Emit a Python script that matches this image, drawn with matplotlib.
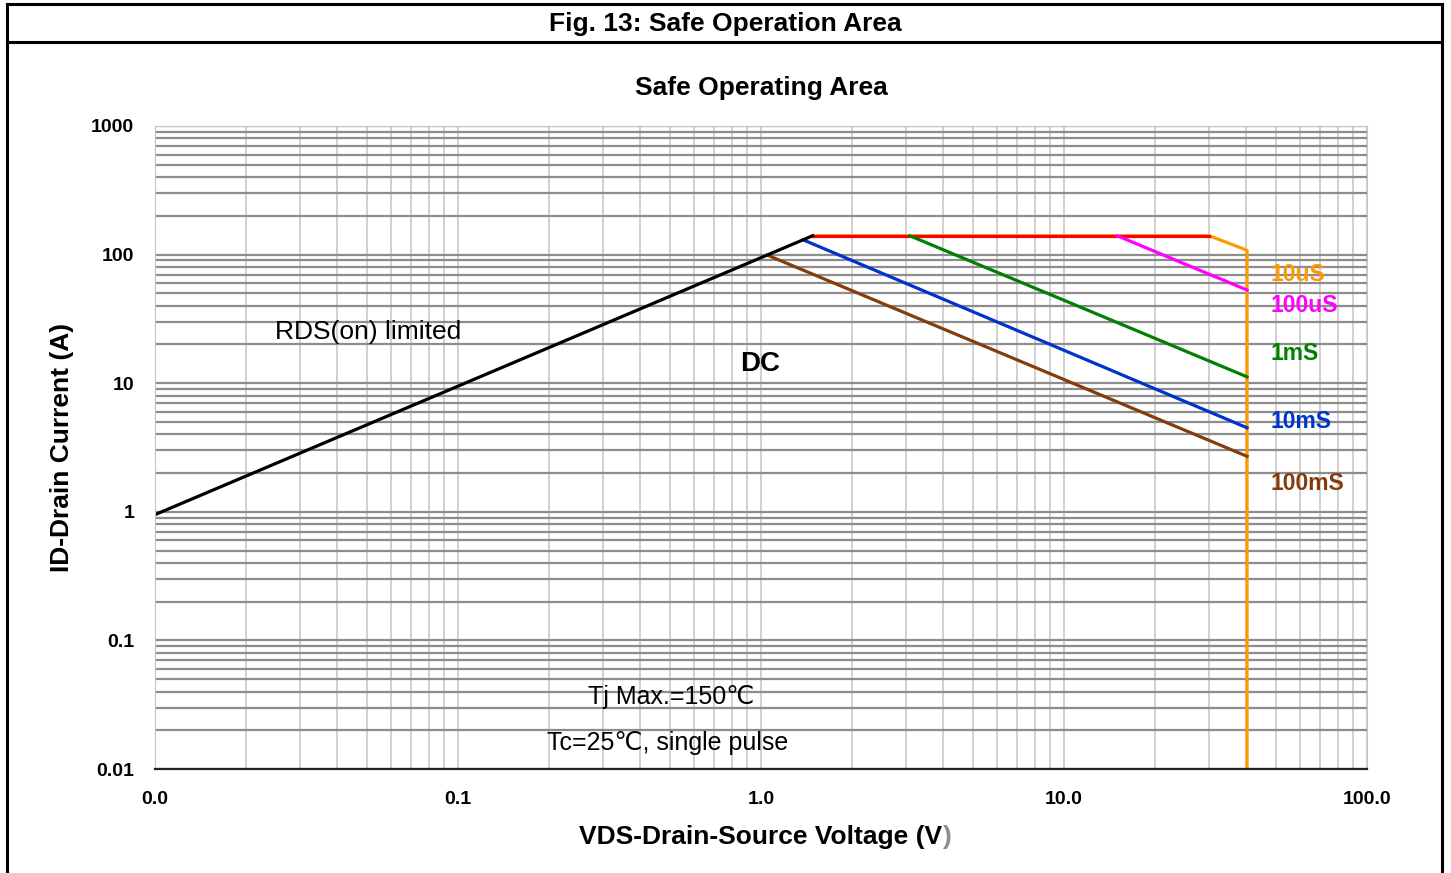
import matplotlib.pyplot as plt
from matplotlib.lines import Line2D
from matplotlib.ticker import FixedLocator, LogLocator, NullFormatter

plt.rcParams['font.family'] = ['Liberation Sans', 'DejaVu Sans']

# curves (V, A)
rds_v = [0.01, 1.48]
rds_i = [0.95, 140]
lim_10us_v = [1.48, 30.2, 40.2, 40.2]
lim_10us_i = [140, 140, 108, 0.01]
red_v = [1.48, 30.2]
red_i = [140, 140]
us100_v = [15.0, 40.2]
us100_i = [140, 53]
ms1_v = [3.1, 40.2]
ms1_i = [140, 11.2]
ms10_v = [1.38, 40.2]
ms10_i = [130, 4.5]
ms100_v = [1.05, 40.2]
ms100_i = [99, 2.7]

x_ticks = [0.01, 0.1, 1, 10, 100]
x_labels = ['0.0', '0.1', '1.0', '10.0', '100.0']
y_ticks = [0.01, 0.1, 1, 10, 100, 1000]
y_labels = ['0.01', '0.1', '1', '10', '100', '1000']

fig = plt.figure(figsize=(14.51, 8.73), dpi=100)

# outer frame with header
frame = dict(color='black', lw=2.2, transform=fig.transFigure)
fig.add_artist(Line2D([0.005, 0.005], [0.0, 0.995], **frame))
fig.add_artist(Line2D([0.994, 0.994], [0.0, 0.995], **frame))
fig.add_artist(Line2D([0.005, 0.994], [0.995, 0.995], **frame))
fig.add_artist(Line2D([0.005, 0.994], [0.952, 0.952], **frame))
fig.text(0.5, 0.973, 'Fig. 13: Safe Operation Area', ha='center', va='center',
         fontsize=19, fontweight='bold')

ax = fig.add_axes([0.1068, 0.1191, 0.8353, 0.7366])
ax.set_xscale('log')
ax.set_yscale('log')
ax.set_xlim(0.01, 100)
ax.set_ylim(0.01, 1000)

ax.xaxis.set_major_locator(FixedLocator(x_ticks))
ax.yaxis.set_major_locator(FixedLocator(y_ticks))
ax.xaxis.set_minor_locator(LogLocator(base=10, subs=range(2, 10)))
ax.yaxis.set_minor_locator(LogLocator(base=10, subs=range(2, 10)))
ax.xaxis.set_minor_formatter(NullFormatter())
ax.yaxis.set_minor_formatter(NullFormatter())
ax.set_xticklabels(x_labels, fontsize=14, fontweight='bold')
ax.set_yticklabels(y_labels, fontsize=14, fontweight='bold')
ax.tick_params(which='both', length=0)
ax.tick_params(axis='x', pad=16)
ax.tick_params(axis='y', pad=15)

ax.grid(axis='y', which='both', color='#8c8c8c', lw=1.6)
ax.grid(axis='x', which='both', color='#c4c4c4', lw=1.1)
ax.set_axisbelow(True)
for s in ['left', 'right', 'top']:
    ax.spines[s].set_color('#c4c4c4')
ax.spines['bottom'].set_color('#222222')
ax.spines['bottom'].set_linewidth(1.6)

lw = 2.3
ax.plot(lim_10us_v, lim_10us_i, color='#ff9900', lw=lw)
ax.plot(red_v, red_i, color='#ff0000', lw=lw)
ax.plot(us100_v, us100_i, color='#ff00ff', lw=lw)
ax.plot(ms1_v, ms1_i, color='#008000', lw=lw)
ax.plot(ms10_v, ms10_i, color='#0033cc', lw=lw)
ax.plot(ms100_v, ms100_i, color='#843c0c', lw=lw)
ax.plot(rds_v, rds_i, color='black', lw=lw)

lab = dict(fontsize=16.5, fontweight='bold', ha='left', va='center')
ax.text(47.9, 70.6, '10uS', color='#ff9900', **lab)
ax.text(47.9, 40.5, '100uS', color='#ff00ff', **lab)
ax.text(47.9, 16.9, '1mS', color='#008000', **lab)
ax.text(47.9, 5.08, '10mS', color='#0033cc', **lab)
ax.text(47.9, 1.67, '100mS', color='#843c0c', **lab)

ax.text(0.0249, 25, 'RDS(on) limited', fontsize=19, ha='left', va='center')
ax.text(0.99, 14.1, 'DC', fontsize=20, fontweight='bold', ha='center', va='center')
ax.text(0.268, 0.036, 'Tj Max.=150℃', fontsize=18, ha='left', va='center')
ax.text(0.197, 0.0159, 'Tc=25℃, single pulse', fontsize=18, ha='left', va='center')

ax.set_title('Safe Operating Area', fontsize=19, fontweight='bold', pad=22)
ax.set_ylabel('ID-Drain Current (A)', fontsize=19, fontweight='bold', labelpad=12)
xl = ax.set_xlabel('VDS-Drain-Source Voltage (V', fontsize=19, fontweight='bold', labelpad=12)
# the closing bracket is grey in the original
fig.canvas.draw()
bb = xl.get_window_extent()
fig.text(bb.x1 / fig.bbox.width, (bb.y0 + bb.y1) / 2 / fig.bbox.height, ')',
         fontsize=19, fontweight='bold', color='#8c8c8c', ha='left', va='center')

fig.savefig('out.png', dpi=100)
